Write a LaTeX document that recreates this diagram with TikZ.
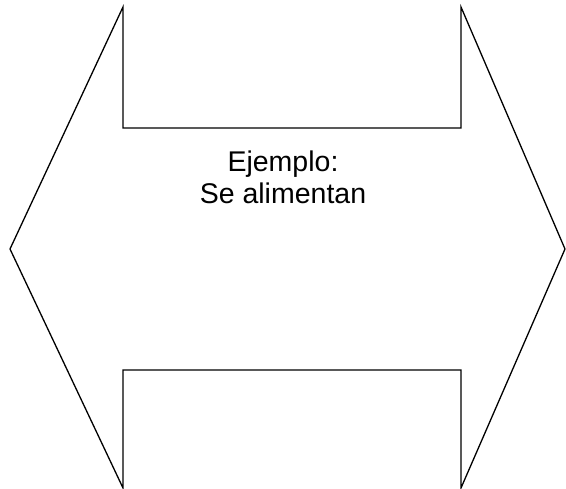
\documentclass[tikz,border=0pt]{standalone}
\usepackage{fontspec}
\setmainfont{Liberation Sans}
\begin{document}
\begin{tikzpicture}[x=1pt,y=-1pt,
  outline/.style={draw=black,line width=1.3pt,line join=miter},
  label/.style={align=center,font=\fontsize{28.5}{32}\selectfont}]
\useasboundingbox (0,0) rectangle (566,489);
\draw[outline] (10,249) -- (123,7) -- (123,128) -- (461,128) -- (461,7) -- (565,249)
  -- (461,488) -- (461,370) -- (123,370) -- (123,488) -- cycle;
\node[label] (t) at (283,177) {Ejemplo:\\Se alimentan};
\end{tikzpicture}
\end{document}
